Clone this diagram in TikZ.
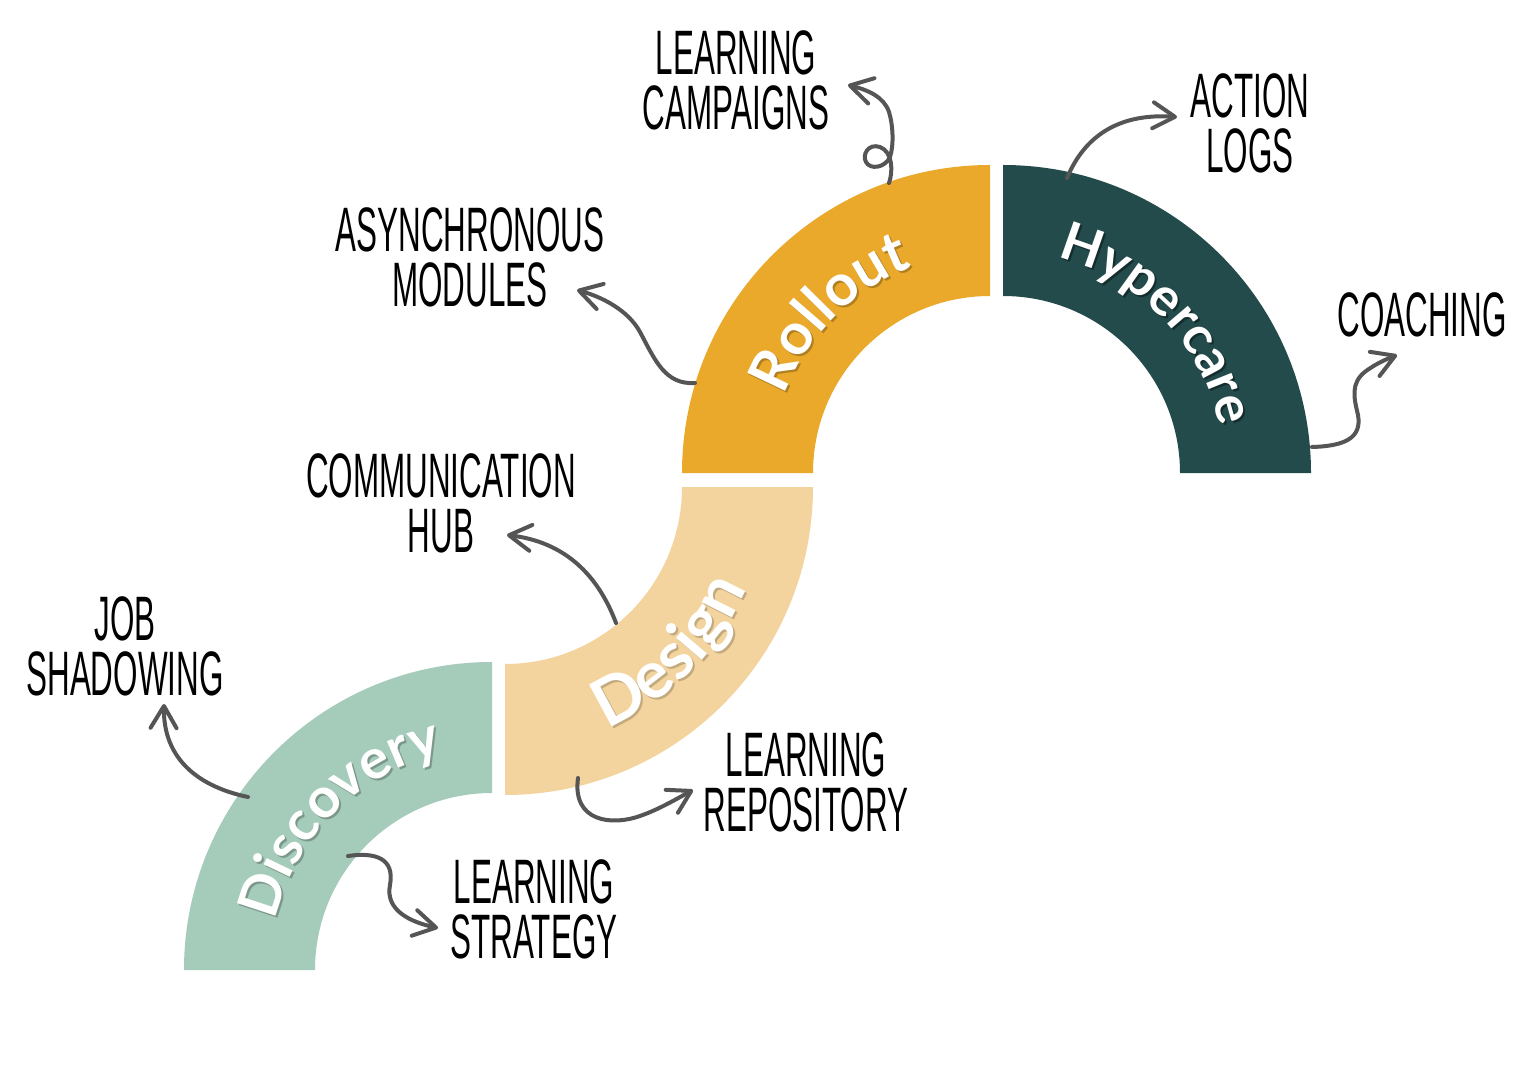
\documentclass[tikz,border=0pt]{standalone}
\usepackage{fontspec}
\usetikzlibrary{decorations.text,arrows.meta}
\newfontfamily\handfont[FakeStretch=0.5]{Liberation Sans}
\newfontfamily\arcfont{Lato}
\definecolor{discC}{HTML}{A5CBBA}
\definecolor{desC}{HTML}{F4D49E}
\definecolor{rollC}{HTML}{EAA92B}
\definecolor{hypC}{HTML}{244B4C}
\definecolor{arrC}{HTML}{555555}
\newcommand\arcA{\arcfont\bfseries\fontsize{28}{30}\selectfont}
\newcommand\arcB{\arcfont\bfseries\fontsize{29}{31}\selectfont}
\newcommand\arcC{\arcfont\bfseries\fontsize{33}{35}\selectfont}
\newcommand\arcD{\arcfont\bfseries\fontsize{26.5}{28}\selectfont}
% ring sector: colour, cx, cy, start angle, end angle
\newcommand\ringsector[5]{%
  \fill[#1] ([shift={(#4:308)}]#2,#3) arc[start angle=#4,end angle=#5,radius=308]
    -- ([shift={(#5:177)}]#2,#3) arc[start angle=#5,end angle=#4,radius=177] -- cycle;}
% curved label: shadow colour, font macro, text, cx, cy, start, end, radius
\newcommand\arclabel[8]{%
  \path[decorate,decoration={text along path,text align=center,text color=#1,
     text={|#2|#3}}]
     ([shift={(#6:#8)}]#4+2,#5+2) arc[start angle=#6,end angle=#7,radius=#8];
  \path[decorate,decoration={text along path,text align=center,text color=white,
     text={|#2|#3}}]
     ([shift={(#6:#8)}]#4,#5) arc[start angle=#6,end angle=#7,radius=#8];}
\begin{document}
\begin{tikzpicture}[x=0.5pt,y=-0.5pt,
  lbl/.style={font=\handfont\fontsize{31.4}{27.5}\selectfont,align=center,inner sep=0pt,text=black},
  conn/.style={draw=arrC,line width=2pt,line cap=round,-{Straight Barb[length=11pt,width=13pt,round]}}]
\fill[white] (0,0) rectangle (1515,1080);
\useasboundingbox (0,0) rectangle (1515,1080);

% arcs
\ringsector{discC}{492}{970}{180}{270}
\ringsector{desC}{505}{487}{90}{0}
\ringsector{rollC}{990}{473}{180}{270}
\ringsector{hypC}{1003}{473}{270}{360}

% arc titles
\arclabel{discC!75!black}{\arcA}{Discovery}{492}{970}{180}{270}{222}
\arclabel{desC!80!black}{\arcC}{Design}{505}{487}{90}{0}{262}
\arclabel{rollC!75!black}{\arcB}{Rollout}{990}{473}{180}{270}{220}
\arclabel{hypC!60!black}{\arcD}{Hypercare}{1003}{473}{272}{360}{222}

% labels
\node[lbl] (camp) at (736,80) {LEARNING\\CAMPAIGNS};
\node[lbl] (logs) at (1250,123) {ACTION\\LOGS};
\node[lbl] (async) at (470,257) {ASYNCHRONOUS\\MODULES};
\node[lbl] (coach) at (1422,315) {COACHING};
\node[lbl] (comm) at (441,503) {COMMUNICATION\\HUB};
\node[lbl] (job) at (125,646) {JOB\\SHADOWING};
\node[lbl] (repo) at (806,782) {LEARNING\\REPOSITORY};
\node[lbl] (strat) at (534,909) {LEARNING\\STRATEGY};

% connector ends
\coordinate (campS) at (889,183);  \coordinate (campE) at (848,85);
\coordinate (logsS) at (1067,178); \coordinate (logsE) at (1177,117);
\coordinate (coachS) at (1312,447);\coordinate (coachE) at (1397,355);
\coordinate (asyncS) at (695,383); \coordinate (asyncE) at (577,290);
\coordinate (commS) at (616,623);  \coordinate (commE) at (507,535);
\coordinate (repoS) at (578,778);  \coordinate (repoE) at (693,790);
\coordinate (jobS) at (248,797);   \coordinate (jobE) at (164,704);
\coordinate (stratS) at (348,856); \coordinate (stratE) at (438,928);

% connectors
\draw[conn] (campS) .. controls (893,172) and (893,152) .. (880,147)
  .. controls (868,143) and (862,155) .. (866,162)
  .. controls (870,170) and (885,168) .. (890,157)
  .. controls (894,145) and (893,125) .. (889,112)
  .. controls (884,97) and (868,90) .. (campE);
\draw[conn] (logsS) .. controls (1085,135) and (1120,113) .. (logsE);
\draw[conn] (coachS) .. controls (1345,446) and (1362,438) .. (1358,415)
  .. controls (1354,398) and (1350,383) .. (1366,371)
  .. controls (1376,364) and (1382,361) .. (coachE);
\draw[conn] (asyncS) .. controls (665,385) and (655,360) .. (640,332)
  .. controls (628,310) and (602,297) .. (asyncE);
\draw[conn] (commS) .. controls (598,575) and (565,542) .. (commE);
\draw[conn] (repoS) .. controls (572,822) and (612,826) .. (640,816)
  .. controls (660,809) and (678,798) .. (repoE);
\draw[conn] (jobS) .. controls (200,787) and (163,760) .. (jobE);
\draw[conn] (stratS) .. controls (375,852) and (395,858) .. (390,885)
  .. controls (385,910) and (410,922) .. (stratE);
\end{tikzpicture}
\end{document}
